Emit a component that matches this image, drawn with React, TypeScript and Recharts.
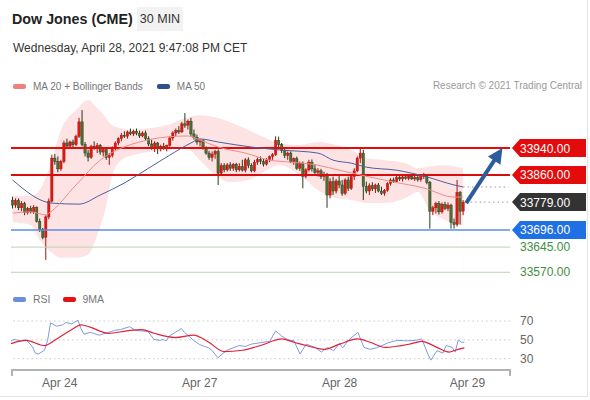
import {
  Area,
  Bar,
  ComposedChart,
  Line,
  ReferenceLine,
  XAxis,
  YAxis,
} from "recharts";

const FONT = "'Liberation Sans', Arial, sans-serif";
const SLOTS = 165;

// [open, high, low, close] per 30-min candle
const candles: [number, number, number, number][] = [
  [33785, 33795, 33760, 33770], [33770, 33790, 33762, 33784], [33784, 33790, 33755, 33762],
  [33762, 33782, 33752, 33775], [33775, 33780, 33740, 33748], [33748, 33765, 33742, 33760],
  [33760, 33768, 33745, 33750], [33750, 33770, 33744, 33764], [33764, 33766, 33718, 33722],
  [33722, 33730, 33690, 33698], [33698, 33702, 33668, 33674], [33674, 33740, 33607, 33735],
  [33735, 33790, 33728, 33782], [33782, 33920, 33778, 33910], [33910, 33922, 33890, 33900],
  [33900, 33915, 33868, 33878], [33878, 33905, 33872, 33900], [33900, 33962, 33895, 33955],
  [33955, 33968, 33940, 33946], [33946, 33962, 33938, 33958], [33958, 33965, 33942, 33950],
  [33950, 33980, 33946, 33975], [33975, 34030, 33970, 34018], [34018, 34053, 33945, 33950],
  [33950, 33958, 33915, 33925], [33925, 33935, 33900, 33912], [33912, 33950, 33908, 33945],
  [33945, 33960, 33935, 33940], [33940, 33955, 33925, 33948], [33948, 33952, 33920, 33928],
  [33928, 33940, 33915, 33935], [33935, 33940, 33905, 33912], [33912, 33925, 33890, 33918],
  [33918, 33945, 33912, 33940], [33940, 33960, 33932, 33955], [33955, 33972, 33948, 33968],
  [33968, 33985, 33960, 33978], [33978, 33990, 33970, 33975], [33975, 33992, 33968, 33988],
  [33988, 33998, 33978, 33982], [33982, 33995, 33976, 33990], [33990, 33998, 33978, 33984],
  [33984, 33992, 33970, 33976], [33976, 33990, 33972, 33985], [33985, 33992, 33962, 33968],
  [33968, 33975, 33945, 33952], [33952, 33965, 33935, 33942], [33942, 33960, 33928, 33955],
  [33955, 33958, 33922, 33938], [33938, 33950, 33930, 33945], [33945, 33955, 33935, 33940],
  [33940, 33950, 33930, 33948], [33948, 33975, 33944, 33970], [33970, 33990, 33962, 33985],
  [33985, 33998, 33975, 33992], [33992, 34005, 33982, 33988], [33988, 34018, 33985, 34012],
  [34012, 34044, 34000, 34008], [34008, 34025, 33995, 34020], [34020, 34030, 33975, 33982],
  [33982, 33995, 33965, 33972], [33972, 33980, 33950, 33958], [33958, 33968, 33945, 33962],
  [33962, 33966, 33935, 33940], [33940, 33945, 33920, 33925], [33925, 33932, 33905, 33912],
  [33912, 33930, 33900, 33922], [33922, 33935, 33908, 33930], [33930, 33936, 33830, 33865],
  [33865, 33895, 33860, 33888], [33888, 33895, 33868, 33875], [33875, 33895, 33870, 33890],
  [33890, 33898, 33872, 33880], [33880, 33895, 33872, 33892], [33892, 33896, 33868, 33875],
  [33875, 33895, 33870, 33885], [33885, 33905, 33870, 33874], [33874, 33910, 33868, 33905],
  [33905, 33912, 33880, 33888], [33888, 33895, 33868, 33872], [33872, 33905, 33868, 33898],
  [33898, 33912, 33890, 33906], [33906, 33915, 33892, 33900], [33900, 33908, 33885, 33892],
  [33892, 33910, 33888, 33905], [33905, 33918, 33898, 33914], [33914, 33925, 33905, 33920],
  [33920, 33975, 33916, 33962], [33962, 33974, 33940, 33950], [33950, 33955, 33925, 33932],
  [33932, 33938, 33910, 33918], [33918, 33930, 33905, 33925], [33925, 33930, 33895, 33900],
  [33900, 33912, 33890, 33908], [33908, 33915, 33875, 33880], [33880, 33900, 33872, 33895],
  [33895, 33900, 33820, 33856], [33856, 33880, 33850, 33875], [33875, 33905, 33870, 33898],
  [33898, 33906, 33870, 33878], [33878, 33890, 33862, 33868], [33868, 33880, 33855, 33872],
  [33872, 33878, 33848, 33855], [33855, 33870, 33842, 33862], [33862, 33866, 33762, 33800],
  [33800, 33850, 33790, 33840], [33840, 33855, 33800, 33812], [33812, 33848, 33805, 33842],
  [33842, 33858, 33820, 33830], [33830, 33845, 33798, 33805], [33805, 33850, 33800, 33845],
  [33845, 33855, 33812, 33820], [33820, 33860, 33815, 33855], [33855, 33880, 33845, 33872],
  [33872, 33915, 33868, 33910], [33910, 33938, 33895, 33925], [33925, 33935, 33785, 33826],
  [33826, 33840, 33805, 33812], [33812, 33835, 33800, 33828], [33828, 33838, 33812, 33818],
  [33818, 33834, 33806, 33830], [33830, 33836, 33808, 33812], [33812, 33825, 33800, 33805],
  [33805, 33818, 33798, 33814], [33814, 33838, 33810, 33834], [33834, 33850, 33828, 33845],
  [33845, 33852, 33836, 33840], [33840, 33858, 33836, 33852], [33852, 33860, 33842, 33848],
  [33848, 33858, 33840, 33854], [33854, 33862, 33846, 33850], [33850, 33860, 33844, 33856],
  [33856, 33862, 33845, 33848], [33848, 33858, 33842, 33852], [33852, 33860, 33840, 33846],
  [33846, 33858, 33840, 33855], [33855, 33866, 33848, 33860], [33860, 33862, 33832, 33838],
  [33838, 33842, 33700, 33752], [33752, 33768, 33740, 33762], [33762, 33780, 33745, 33775],
  [33775, 33782, 33742, 33750], [33750, 33778, 33745, 33772], [33772, 33780, 33755, 33760],
  [33760, 33778, 33752, 33770], [33770, 33774, 33700, 33718], [33718, 33730, 33700, 33712],
  [33712, 33845, 33706, 33808], [33808, 33812, 33712, 33752], [33752, 33785, 33740, 33779],
];

// [candle index, upper band, lower band]
const bandPoints: [number, number, number][] = [
  [0, 33797, 33720], [6, 33797, 33711], [9, 33815, 33666], [13, 33904, 33628],
  [16, 33994, 33613], [21, 34053, 33613], [25, 34083, 33622], [28, 34059, 33681],
  [31, 34029, 33770], [33, 34008, 33860], [36, 33999, 33904], [40, 33994, 33919],
  [45, 33999, 33928], [51, 34008, 33934], [57, 34029, 33943], [62, 34038, 33904],
  [67, 34032, 33860], [72, 34017, 33839], [78, 33994, 33845], [83, 33973, 33869],
  [88, 33955, 33889], [95, 33949, 33860], [101, 33958, 33815], [107, 33949, 33791],
  [112, 33934, 33785], [117, 33910, 33776], [123, 33904, 33776], [130, 33895, 33791],
  [134, 33880, 33809], [138, 33886, 33755], [143, 33889, 33726], [149, 33880, 33711],
];

const ma20Points: [number, number][] = [
  [0, 33746], [6, 33750], [11, 33741], [12, 33746], [21, 33830], [29, 33904],
  [36, 33940], [42, 33958], [51, 33973], [58, 33976], [62, 33964], [68, 33943],
  [77, 33925], [85, 33904], [92, 33898], [101, 33889], [108, 33874], [118, 33854],
  [126, 33839], [136, 33821], [146, 33794], [149, 33794],
];

const ma50Points: [number, number][] = [
  [0, 33845], [13, 33776], [22, 33773], [29, 33800], [37, 33836], [45, 33880],
  [52, 33919], [59, 33955], [62, 33967], [68, 33958], [79, 33943], [89, 33934],
  [101, 33925], [106, 33904], [112, 33895], [117, 33883], [127, 33874], [137, 33854],
  [146, 33830], [149, 33824],
];

const rsiPoints: [number, number][] = [
  [0, 49], [1, 50.5], [3, 49], [5, 50], [7, 43], [8, 36], [9, 35], [11, 39], [12, 49],
  [13, 68], [15, 64.5], [17, 66], [18, 68.5], [20, 67], [22, 71], [23, 62], [24, 56],
  [26, 58], [27, 57], [29, 55], [32, 58], [34, 60], [36, 61], [39, 64], [41, 60],
  [43, 59.5], [45, 59], [47, 50.5], [49, 49.5], [50, 50.5], [51, 49], [52, 54], [54, 58],
  [56, 62], [57, 58], [59, 52.5], [60, 49.5], [62, 45], [65, 41.5], [66, 39], [68, 31],
  [70, 36.5], [71, 39], [75, 44], [77, 43], [79, 45.5], [82, 47], [85, 48.5], [87, 59.5],
  [89, 54], [91, 50], [93, 49], [95, 35], [97, 45.5], [100, 42], [102, 37], [104, 42],
  [106, 38.5], [108, 46.5], [109, 41.5], [111, 50], [114, 58], [116, 42], [118, 40],
  [120, 41.5], [123, 45.5], [124, 47], [127, 49.5], [130, 49], [133, 49.5], [135, 51],
  [137, 35], [138, 28.5], [140, 38.5], [142, 36], [143, 44], [145, 42], [146, 37],
  [147, 50], [148, 47.5], [149, 47.5],
];

const rsiMaPoints: [number, number][] = [
  [0, 46], [5, 49.5], [11, 44], [15, 51], [20, 61], [23, 66], [26, 63.5], [32, 57],
  [38, 59.5], [43, 61], [47, 57], [54, 52.5], [60, 55], [65, 47.5], [70, 37.5],
  [76, 39], [82, 44], [89, 51], [93, 47.5], [97, 44], [103, 40], [108, 45.5],
  [114, 51], [118, 47.5], [123, 42], [131, 45.5], [135, 48.5], [140, 42], [144, 37],
  [146, 39], [149, 41.5],
];

const dateTicks = [16, 62, 108, 150];
const dateLabels = ["Apr 24", "Apr 27", "Apr 28", "Apr 29"];
const rsiTicks = [30, 50, 70];

const levelValues = [33940, 33860, 33779, 33696, 33645, 33570];
const lastMa50 = 33824;
// arrow from last close towards the upper resistance
const arrowFrom = { i: 150, v: 33776 };
const arrowTo = { i: 162, v: 33940 };

const levelStyles = [
  { line: "#e30b0b", width: 2, tag: "#e30b0b", text: "#fff" },
  { line: "#d90d0d", width: 2, tag: "#e30b0b", text: "#fff" },
  { line: "none", width: 0, tag: "#333333", text: "#fff" },
  { line: "#5b8ee6", width: 1.5, tag: "#1f6fe5", text: "#fff" },
  { line: "#bcd3b4", width: 1, tag: "", text: "#3f8f3f" },
  { line: "#bcd3b4", width: 1, tag: "", text: "#3f8f3f" },
];

const mainRows: any[] = Array.from({ length: SLOTS }, (_, i) => ({ i }));
candles.forEach(([o, h, l, c], i) => {
  Object.assign(mainRows[i], { o, h, l, c, range: [l, h] });
});
bandPoints.forEach(([i, u, l]) => {
  mainRows[i].upper = u;
  mainRows[i].lower = l;
});
ma20Points.forEach(([i, v]) => (mainRows[i].ma20 = v));
ma50Points.forEach(([i, v]) => (mainRows[i].ma50 = v));

const rsiRows: any[] = Array.from({ length: SLOTS }, (_, i) => ({ i }));
rsiPoints.forEach(([i, v]) => (rsiRows[i].rsi = v));
rsiMaPoints.forEach(([i, v]) => (rsiRows[i].ma = v));

function Candle(props: any) {
  const { x, y, width, height, payload } = props;
  if (!payload || payload.o == null) return null;
  const { o, h, l, c } = payload;
  const up = c >= o;
  const span = h - l || 1;
  const py = (v: number) => y + ((h - v) / span) * height;
  const cx = x + width / 2;
  const top = py(Math.max(o, c));
  const bot = py(Math.min(o, c));
  const body = up ? "#dd1a12" : "#4b6e33";
  const wick = up ? "#a3140e" : "#27391b";
  return (
    <g>
      <line x1={cx} x2={cx} y1={y} y2={y + height} stroke={wick} strokeWidth={1} />
      <rect
        x={cx - 1.2}
        y={top}
        width={2.4}
        height={Math.max(1, bot - top)}
        fill={body}
        stroke={wick}
        strokeWidth={0.4}
      />
    </g>
  );
}

function levelTag(viewBox: any, idx: number) {
  const st = levelStyles[idx];
  const x0 = 512;
  const y = viewBox.y;
  const label = levelValues[idx].toFixed(2);
  if (!st.tag) {
    return (
      <text x={x0 + 8} y={y + 4} fill={st.text} fontSize={12} fontFamily={FONT}>
        {label}
      </text>
    );
  }
  return (
    <g>
      <polygon
        points={`${x0},${y} ${x0 + 8},${y - 9} ${x0 + 74},${y - 9} ${x0 + 74},${y + 9} ${x0 + 8},${y + 9}`}
        fill={st.tag}
      />
      <text x={x0 + 8} y={y + 4.5} fill={st.text} fontSize={12} fontFamily={FONT}>
        {label}
      </text>
    </g>
  );
}

function Arrow(props: any) {
  const { x1, y1, x2, y2 } = props;
  if ([x1, y1, x2, y2].some((v) => v == null || isNaN(v))) return null;
  const dx = x2 - x1;
  const dy = y2 - y1;
  const len = Math.sqrt(dx * dx + dy * dy);
  const ux = dx / len;
  const uy = dy / len;
  const hl = 15;
  const hw = 7.5;
  const bx = x2 - ux * hl;
  const by = y2 - uy * hl;
  return (
    <g>
      <line x1={x1} y1={y1} x2={bx + ux * 2} y2={by + uy * 2} stroke="#2d5c9e" strokeWidth={4} />
      <polygon
        points={`${x2},${y2} ${bx - uy * hw},${by + ux * hw} ${bx + uy * hw},${by - ux * hw}`}
        fill="#2d5c9e"
      />
    </g>
  );
}

function Swatch({ color }: { color: string }) {
  return (
    <span
      style={{
        display: "inline-block",
        width: 13,
        height: 5,
        borderRadius: 2,
        background: color,
        marginRight: 7,
        verticalAlign: "middle",
      }}
    />
  );
}

export default function App() {
  return (
    <div
      style={{
        position: "relative",
        width: 590,
        height: 400,
        background: "#fff",
        fontFamily: FONT,
        overflow: "hidden",
      }}
    >
      <style>{"body{margin:0}"}</style>
      <div
        style={{
          position: "absolute",
          left: 0,
          top: 0,
          width: 587,
          height: 396,
          borderRight: "1px solid #e4e4e4",
          borderBottom: "1px solid #e4e4e4",
        }}
      />
      <div
        style={{
          position: "absolute",
          left: 12,
          top: 11,
          fontSize: 14.3,
          fontWeight: 700,
          color: "#222",
          whiteSpace: "nowrap",
        }}
      >
        Dow Jones (CME)
      </div>
      <div
        style={{
          position: "absolute",
          left: 137,
          top: 7,
          width: 46,
          height: 24,
          background: "#f2f2f2",
          fontSize: 12.5,
          color: "#333",
          lineHeight: "24px",
          textAlign: "center",
        }}
      >
        30 MIN
      </div>
      <div style={{ position: "absolute", left: 13, top: 41, fontSize: 12, color: "#333", whiteSpace: "nowrap" }}>
        Wednesday, April 28, 2021 9:47:08 PM CET
      </div>
      <div style={{ position: "absolute", left: 13, top: 80, fontSize: 10, color: "#777", whiteSpace: "nowrap" }}>
        <Swatch color="#f08080" />
        <span style={{ marginRight: 14, verticalAlign: "middle" }}>MA 20 + Bollinger Bands</span>
        <Swatch color="#2f4f8f" />
        <span style={{ verticalAlign: "middle" }}>MA 50</span>
      </div>
      <div style={{ position: "absolute", right: 8, top: 80, fontSize: 10, color: "#999", whiteSpace: "nowrap" }}>
        Research © 2021 Trading Central
      </div>

      <div style={{ position: "absolute", left: 0, top: 0 }}>
        <ComposedChart
          width={590}
          height={290}
          data={mainRows}
          margin={{ top: 95, right: 80, bottom: 10, left: 11 }}
        >
          <XAxis dataKey="i" type="category" hide />
          <YAxis hide domain={[33547, 34098]} allowDataOverflow />
          <Area
            dataKey="upper"
            type="monotone"
            connectNulls
            stroke="none"
            fill="#fde3e3"
            fillOpacity={1}
            isAnimationActive={false}
          />
          <Area
            dataKey="lower"
            type="monotone"
            connectNulls
            stroke="none"
            fill="#ffffff"
            fillOpacity={1}
            isAnimationActive={false}
          />
          {levelValues.map((v, idx) =>
            idx === 2 ? null : (
              <ReferenceLine
                key={v}
                y={v}
                stroke={levelStyles[idx].line}
                strokeWidth={levelStyles[idx].width}
                label={(p: any) => levelTag(p.viewBox, idx)}
              />
            )
          )}
          <Line
            dataKey="ma50"
            type="monotone"
            connectNulls
            dot={false}
            stroke="#4c5f9c"
            strokeWidth={1}
            isAnimationActive={false}
          />
          <Line
            dataKey="ma20"
            type="monotone"
            connectNulls
            dot={false}
            stroke="#f08a8a"
            strokeWidth={1}
            isAnimationActive={false}
          />
          <Bar dataKey="range" shape={<Candle />} barSize={3} isAnimationActive={false} />
          <ReferenceLine
            segment={[
              { x: 149, y: lastMa50 },
              { x: SLOTS - 1, y: lastMa50 },
            ]}
            stroke="#999"
            strokeDasharray="1.5 3"
          />
          <ReferenceLine
            segment={[
              { x: 150, y: levelValues[2] },
              { x: SLOTS - 1, y: levelValues[2] },
            ]}
            stroke="#999"
            strokeDasharray="1.5 3"
          />
          <ReferenceLine
            y={levelValues[2]}
            stroke="none"
            label={(p: any) => levelTag(p.viewBox, 2)}
          />
          <ReferenceLine
            segment={[
              { x: arrowFrom.i, y: arrowFrom.v },
              { x: arrowTo.i, y: arrowTo.v },
            ]}
            shape={(p: any) => <Arrow {...p} />}
          />
        </ComposedChart>
      </div>

      <div style={{ position: "absolute", left: 13, top: 292, fontSize: 10.5, color: "#777", whiteSpace: "nowrap" }}>
        <Swatch color="#6d8ee0" />
        <span style={{ marginRight: 12, verticalAlign: "middle" }}>RSI</span>
        <Swatch color="#e81010" />
        <span style={{ verticalAlign: "middle" }}>9MA</span>
      </div>

      <div style={{ position: "absolute", left: 0, top: 290 }}>
        <ComposedChart
          width={590}
          height={108}
          data={rsiRows}
          margin={{ top: 16, right: 30, bottom: 0, left: 11 }}
        >
          <XAxis
            dataKey="i"
            type="category"
            ticks={dateTicks}
            interval={0}
            tickFormatter={(v: number) => dateLabels[dateTicks.indexOf(v)] ?? ""}
            axisLine={{ stroke: "#b3b3b3", strokeWidth: 2 }}
            tickLine={false}
            tick={{ fill: "#666", fontSize: 12, fontFamily: FONT }}
            height={28}
          />
          <YAxis
            orientation="right"
            domain={[18, 86]}
            ticks={rsiTicks}
            interval={0}
            axisLine={false}
            tickLine={false}
            width={50}
            tickMargin={4}
            tick={{ fill: "#666", fontSize: 12, fontFamily: FONT, textAnchor: "start" }}
          />
          {rsiTicks.map((v) => (
            <ReferenceLine key={v} y={v} stroke="#c9c9c9" strokeDasharray="1.5 3" />
          ))}
          <Line
            dataKey="rsi"
            type="linear"
            connectNulls
            dot={false}
            stroke="#7f9be0"
            strokeWidth={1}
            isAnimationActive={false}
          />
          <Line
            dataKey="ma"
            type="monotone"
            connectNulls
            dot={false}
            stroke="#e3203a"
            strokeWidth={1.2}
            isAnimationActive={false}
          />
        </ComposedChart>
      </div>
      <div style={{ position: "absolute", left: 11, top: 369, width: 2, height: 7, background: "#b3b3b3" }} />
      <div style={{ position: "absolute", left: 509, top: 369, width: 2, height: 7, background: "#b3b3b3" }} />
    </div>
  );
}
